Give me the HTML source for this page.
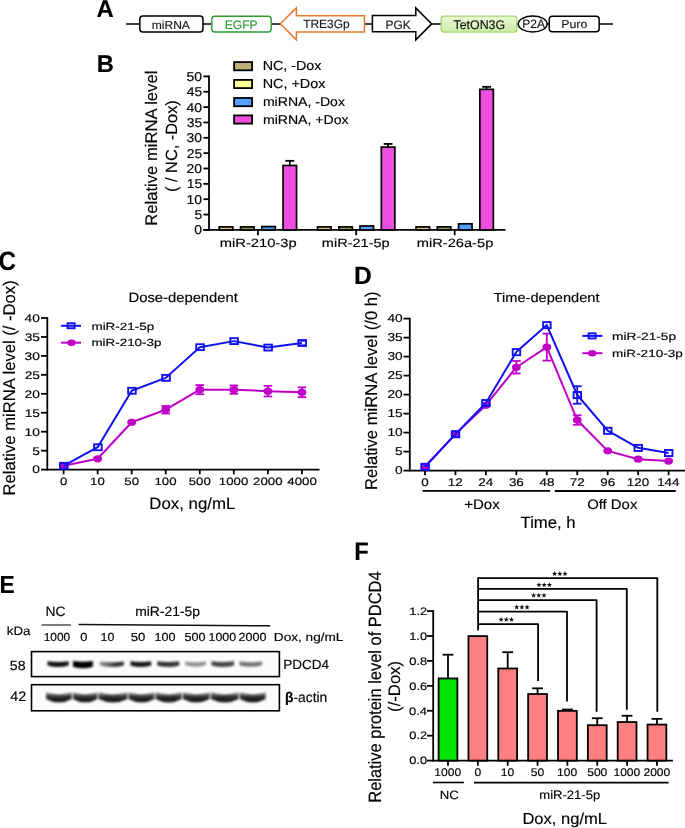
<!DOCTYPE html>
<html><head><meta charset="utf-8"><style>
html,body{margin:0;padding:0;background:#fff;}
svg{display:block;will-change:transform;}
text{font-family:"Liberation Sans",sans-serif;text-rendering:geometricPrecision;}
</style></head><body>
<svg width="685" height="828" viewBox="0 0 685 828">
<rect width="685" height="828" fill="#fff"/>
<text transform="translate(96.6,17.1) scale(0.9833,1)" font-size="24.286" font-weight="bold" fill="#000" stroke="#000" stroke-width="0.15">A</text>
<text transform="translate(96.65,71.9) scale(0.9788,1)" font-size="24.286" font-weight="bold" fill="#000" stroke="#000" stroke-width="0.15">B</text>
<text transform="translate(-1.57,270.2) scale(0.9136,1)" font-size="26.571" font-weight="bold" fill="#000" stroke="#000" stroke-width="0.15">C</text>
<text transform="translate(354.1,283.9) scale(0.9821,1)" font-size="25.000" font-weight="bold" fill="#000" stroke="#000" stroke-width="0.15">D</text>
<text transform="translate(-0.58,592.7) scale(0.9238,1)" font-size="24.714" font-weight="bold" fill="#000" stroke="#000" stroke-width="0.15">E</text>
<text transform="translate(354.36,559.7) scale(0.9330,1)" font-size="25.429" font-weight="bold" fill="#000" stroke="#000" stroke-width="0.15">F</text>
<line x1="126" y1="24" x2="613" y2="24" stroke="#000" stroke-width="1.3"/>
<rect x="139.85" y="16.05" width="63.1" height="16" rx="3" fill="#fff" stroke="#000" stroke-width="1.5"/>
<text transform="translate(151.72,28.7) scale(1.0299,1)" font-size="11.714" fill="#1a1a1a" stroke="#1a1a1a" stroke-width="0.15">miRNA</text>
<rect x="211.8" y="16.2" width="59.4" height="15.8" rx="3" fill="#fff" stroke="#2e9a2e" stroke-width="1.4"/>
<text transform="translate(224.73,28.6) scale(0.9868,1)" font-size="12.286" fill="#2e9a2e" stroke="#2e9a2e" stroke-width="0.15">EGFP</text>
<polygon points="280.3,23.8 296.4,7.9 296.4,15.7 364.5,15.7 364.5,32 296.4,32 296.4,39.9" fill="#fff" stroke="#e8792a" stroke-width="1.5" stroke-linejoin="miter"/>
<text transform="translate(303.16,28.4) scale(0.9943,1)" font-size="12.000" fill="#1a1a1a" stroke="#1a1a1a" stroke-width="0.15">TRE3Gp</text>
<polygon points="372.4,15.4 415.8,15.4 415.8,7.9 431.7,23.9 415.8,39.9 415.8,31.7 372.4,31.7" fill="#fff" stroke="#000" stroke-width="1.5"/>
<text transform="translate(385.45,28.6) scale(0.9825,1)" font-size="12.143" fill="#1a1a1a" stroke="#1a1a1a" stroke-width="0.15">PGK</text>
<defs><linearGradient id="tg" x1="0" y1="0" x2="0" y2="1"><stop offset="0" stop-color="#eaf8d6"/><stop offset="1" stop-color="#cdeda6"/></linearGradient></defs>
<rect x="441.15" y="16.15" width="75.7" height="15.9" rx="3" fill="url(#tg)" stroke="#a6d672" stroke-width="1.3"/>
<text transform="translate(453.45,28.6) scale(0.9877,1)" font-size="12.571" fill="#111" stroke="#111" stroke-width="0.15">TetON3G</text>
<ellipse cx="532.7" cy="24" rx="14.4" ry="8.0" fill="#fff" stroke="#000" stroke-width="1.5"/>
<text transform="translate(522.24,28.3) scale(0.9919,1)" font-size="12.143" fill="#1a1a1a" stroke="#1a1a1a" stroke-width="0.15">P2A</text>
<rect x="549.25" y="16.15" width="49.9" height="15.6" rx="3" fill="#fff" stroke="#000" stroke-width="1.5"/>
<text transform="translate(561.21,28.3) scale(1.0817,1)" font-size="11.429" fill="#1a1a1a" stroke="#1a1a1a" stroke-width="0.15">Puro</text>
<line x1="209" y1="75.5" x2="209" y2="230.8" stroke="#000" stroke-width="1.8"/>
<line x1="203.4" y1="229.9" x2="209" y2="229.9" stroke="#000" stroke-width="1.8"/>
<text transform="translate(194.36,234.35) scale(1.0800,1)" font-size="12.900" fill="#000" stroke="#000" stroke-width="0.15">0</text>
<line x1="203.4" y1="214.55" x2="209" y2="214.55" stroke="#000" stroke-width="1.8"/>
<text transform="translate(194.43,219) scale(1.0800,1)" font-size="12.900" fill="#000" stroke="#000" stroke-width="0.15">5</text>
<line x1="203.4" y1="199.2" x2="209" y2="199.2" stroke="#000" stroke-width="1.8"/>
<text transform="translate(186.62,203.65) scale(1.0800,1)" font-size="12.900" fill="#000" stroke="#000" stroke-width="0.15">10</text>
<line x1="203.4" y1="183.85" x2="209" y2="183.85" stroke="#000" stroke-width="1.8"/>
<text transform="translate(186.69,188.3) scale(1.0800,1)" font-size="12.900" fill="#000" stroke="#000" stroke-width="0.15">15</text>
<line x1="203.4" y1="168.5" x2="209" y2="168.5" stroke="#000" stroke-width="1.8"/>
<text transform="translate(186.62,172.95) scale(1.0800,1)" font-size="12.900" fill="#000" stroke="#000" stroke-width="0.15">20</text>
<line x1="203.4" y1="153.15" x2="209" y2="153.15" stroke="#000" stroke-width="1.8"/>
<text transform="translate(186.69,157.6) scale(1.0800,1)" font-size="12.900" fill="#000" stroke="#000" stroke-width="0.15">25</text>
<line x1="203.4" y1="137.8" x2="209" y2="137.8" stroke="#000" stroke-width="1.8"/>
<text transform="translate(186.62,142.25) scale(1.0800,1)" font-size="12.900" fill="#000" stroke="#000" stroke-width="0.15">30</text>
<line x1="203.4" y1="122.45" x2="209" y2="122.45" stroke="#000" stroke-width="1.8"/>
<text transform="translate(186.69,126.9) scale(1.0800,1)" font-size="12.900" fill="#000" stroke="#000" stroke-width="0.15">35</text>
<line x1="203.4" y1="107.1" x2="209" y2="107.1" stroke="#000" stroke-width="1.8"/>
<text transform="translate(186.62,111.55) scale(1.0800,1)" font-size="12.900" fill="#000" stroke="#000" stroke-width="0.15">40</text>
<line x1="203.4" y1="91.75" x2="209" y2="91.75" stroke="#000" stroke-width="1.8"/>
<text transform="translate(186.69,96.2) scale(1.0800,1)" font-size="12.900" fill="#000" stroke="#000" stroke-width="0.15">45</text>
<line x1="203.4" y1="76.4" x2="209" y2="76.4" stroke="#000" stroke-width="1.8"/>
<text transform="translate(186.62,80.85) scale(1.0800,1)" font-size="12.900" fill="#000" stroke="#000" stroke-width="0.15">50</text>
<line x1="203.4" y1="229.9" x2="505.4" y2="229.9" stroke="#000" stroke-width="1.8"/>
<line x1="257.9" y1="229.9" x2="257.9" y2="235.2" stroke="#000" stroke-width="1.8"/>
<line x1="356.2" y1="229.9" x2="356.2" y2="235.2" stroke="#000" stroke-width="1.8"/>
<line x1="454.7" y1="229.9" x2="454.7" y2="235.2" stroke="#000" stroke-width="1.8"/>
<rect x="219.25" y="226.88" width="13.5" height="3.07" rx="0" fill="#cdbd88" stroke="#000" stroke-width="1.7"/>
<rect x="240.55" y="226.88" width="13.5" height="3.07" rx="0" fill="#9a9660" stroke="#000" stroke-width="1.7"/>
<rect x="261.75" y="226.57" width="13.5" height="3.38" rx="0" fill="#55a0ff" stroke="#000" stroke-width="1.7"/>
<line x1="289.8" y1="160.82" x2="289.8" y2="165.43" stroke="#000" stroke-width="1.6"/>
<line x1="285.4" y1="160.82" x2="294.2" y2="160.82" stroke="#000" stroke-width="1.8"/>
<rect x="283.05" y="165.48" width="13.5" height="64.47" rx="0" fill="#ee4ee0" stroke="#000" stroke-width="1.7"/>
<rect x="317.55" y="226.88" width="13.5" height="3.07" rx="0" fill="#cdbd88" stroke="#000" stroke-width="1.7"/>
<rect x="338.85" y="226.88" width="13.5" height="3.07" rx="0" fill="#9a9660" stroke="#000" stroke-width="1.7"/>
<rect x="360.05" y="225.96" width="13.5" height="3.99" rx="0" fill="#55a0ff" stroke="#000" stroke-width="1.7"/>
<line x1="388.1" y1="143.94" x2="388.1" y2="147.01" stroke="#000" stroke-width="1.6"/>
<line x1="383.7" y1="143.94" x2="392.5" y2="143.94" stroke="#000" stroke-width="1.8"/>
<rect x="381.35" y="147.06" width="13.5" height="82.89" rx="0" fill="#ee4ee0" stroke="#000" stroke-width="1.7"/>
<rect x="416.05" y="226.88" width="13.5" height="3.07" rx="0" fill="#cdbd88" stroke="#000" stroke-width="1.7"/>
<rect x="437.35" y="226.88" width="13.5" height="3.07" rx="0" fill="#9a9660" stroke="#000" stroke-width="1.7"/>
<rect x="458.55" y="223.81" width="13.5" height="6.14" rx="0" fill="#55a0ff" stroke="#000" stroke-width="1.7"/>
<line x1="486.6" y1="86.84" x2="486.6" y2="89.29" stroke="#000" stroke-width="1.6"/>
<line x1="482.2" y1="86.84" x2="491" y2="86.84" stroke="#000" stroke-width="1.8"/>
<rect x="479.85" y="89.34" width="13.5" height="140.61" rx="0" fill="#ee4ee0" stroke="#000" stroke-width="1.7"/>
<rect x="234.1" y="62.1" width="18" height="8.2" rx="0" fill="#bfae78" stroke="#000" stroke-width="1.8"/>
<rect x="234.1" y="79.9" width="18" height="8.2" rx="0" fill="#ffff99" stroke="#000" stroke-width="1.8"/>
<rect x="234.1" y="98" width="18" height="8.2" rx="0" fill="#55a0ff" stroke="#000" stroke-width="1.8"/>
<rect x="234.1" y="115.4" width="18" height="8.2" rx="0" fill="#ee4ee0" stroke="#000" stroke-width="1.8"/>
<text transform="translate(262.65,70.3) scale(1.0902,1)" font-size="13.143" fill="#000" stroke="#000" stroke-width="0.15">NC, -Dox</text>
<text transform="translate(262.65,87.8) scale(1.0976,1)" font-size="13.143" fill="#000" stroke="#000" stroke-width="0.15">NC, +Dox</text>
<text transform="translate(262.88,106.1) scale(1.1074,1)" font-size="12.714" fill="#000" stroke="#000" stroke-width="0.15">miRNA, -Dox</text>
<text transform="translate(262.88,123.7) scale(1.1224,1)" font-size="12.571" fill="#000" stroke="#000" stroke-width="0.15">miRNA, +Dox</text>
<text transform="translate(219.74,246.6) scale(1.2256,1)" font-size="12.000" fill="#000" stroke="#000" stroke-width="0.15">miR-210-3p</text>
<text transform="translate(321.86,246.6) scale(1.2098,1)" font-size="12.000" fill="#000" stroke="#000" stroke-width="0.15">miR-21-5p</text>
<text transform="translate(416.75,246.6) scale(1.2207,1)" font-size="12.000" fill="#000" stroke="#000" stroke-width="0.15">miR-26a-5p</text>
<text transform="translate(157.2,225.73) rotate(-90) scale(1,1.0121)" font-size="16.627" fill="#000" stroke="#000" stroke-width="0.15">Relative miRNA level</text>
<text transform="translate(176.59,191.98) rotate(-90) scale(1,0.9928)" font-size="16.375" fill="#000" stroke="#000" stroke-width="0.15">( / NC, -Dox)</text>
<line x1="47.3" y1="317.1" x2="47.3" y2="470.5" stroke="#000" stroke-width="1.8"/>
<line x1="41" y1="469.6" x2="47.3" y2="469.6" stroke="#000" stroke-width="1.8"/>
<text transform="translate(32.24,473.45) scale(1.2400,1)" font-size="11.100" fill="#000" stroke="#000" stroke-width="0.15">0</text>
<line x1="41" y1="450.65" x2="47.3" y2="450.65" stroke="#000" stroke-width="1.8"/>
<text transform="translate(32.31,454.5) scale(1.2400,1)" font-size="11.100" fill="#000" stroke="#000" stroke-width="0.15">5</text>
<line x1="41" y1="431.7" x2="47.3" y2="431.7" stroke="#000" stroke-width="1.8"/>
<text transform="translate(24.6,435.55) scale(1.2400,1)" font-size="11.100" fill="#000" stroke="#000" stroke-width="0.15">10</text>
<line x1="41" y1="412.75" x2="47.3" y2="412.75" stroke="#000" stroke-width="1.8"/>
<text transform="translate(24.67,416.6) scale(1.2400,1)" font-size="11.100" fill="#000" stroke="#000" stroke-width="0.15">15</text>
<line x1="41" y1="393.8" x2="47.3" y2="393.8" stroke="#000" stroke-width="1.8"/>
<text transform="translate(24.6,397.65) scale(1.2400,1)" font-size="11.100" fill="#000" stroke="#000" stroke-width="0.15">20</text>
<line x1="41" y1="374.85" x2="47.3" y2="374.85" stroke="#000" stroke-width="1.8"/>
<text transform="translate(24.67,378.7) scale(1.2400,1)" font-size="11.100" fill="#000" stroke="#000" stroke-width="0.15">25</text>
<line x1="41" y1="355.9" x2="47.3" y2="355.9" stroke="#000" stroke-width="1.8"/>
<text transform="translate(24.6,359.75) scale(1.2400,1)" font-size="11.100" fill="#000" stroke="#000" stroke-width="0.15">30</text>
<line x1="41" y1="336.95" x2="47.3" y2="336.95" stroke="#000" stroke-width="1.8"/>
<text transform="translate(24.67,340.8) scale(1.2400,1)" font-size="11.100" fill="#000" stroke="#000" stroke-width="0.15">35</text>
<line x1="41" y1="318" x2="47.3" y2="318" stroke="#000" stroke-width="1.8"/>
<text transform="translate(24.6,321.85) scale(1.2400,1)" font-size="11.100" fill="#000" stroke="#000" stroke-width="0.15">40</text>
<line x1="47.3" y1="469.6" x2="319.5" y2="469.6" stroke="#000" stroke-width="1.8"/>
<line x1="63.6" y1="469.6" x2="63.6" y2="474.3" stroke="#000" stroke-width="1.8"/>
<text transform="translate(59.89,484.9) scale(1.2500,1)" font-size="10.600" fill="#000" stroke="#000" stroke-width="0.15">0</text>
<line x1="97.65" y1="469.6" x2="97.65" y2="474.3" stroke="#000" stroke-width="1.8"/>
<text transform="translate(90.03,484.9) scale(1.2500,1)" font-size="10.600" fill="#000" stroke="#000" stroke-width="0.15">10</text>
<line x1="131.7" y1="469.6" x2="131.7" y2="474.3" stroke="#000" stroke-width="1.8"/>
<text transform="translate(124.31,484.9) scale(1.2500,1)" font-size="10.600" fill="#000" stroke="#000" stroke-width="0.15">50</text>
<line x1="165.75" y1="469.6" x2="165.75" y2="474.3" stroke="#000" stroke-width="1.8"/>
<text transform="translate(154.45,484.9) scale(1.2500,1)" font-size="10.600" fill="#000" stroke="#000" stroke-width="0.15">100</text>
<line x1="199.8" y1="469.6" x2="199.8" y2="474.3" stroke="#000" stroke-width="1.8"/>
<text transform="translate(188.74,484.9) scale(1.2500,1)" font-size="10.600" fill="#000" stroke="#000" stroke-width="0.15">500</text>
<line x1="233.85" y1="469.6" x2="233.85" y2="474.3" stroke="#000" stroke-width="1.8"/>
<text transform="translate(218.84,484.9) scale(1.2500,1)" font-size="10.600" fill="#000" stroke="#000" stroke-width="0.15">1000</text>
<line x1="267.9" y1="469.6" x2="267.9" y2="474.3" stroke="#000" stroke-width="1.8"/>
<text transform="translate(253.06,484.9) scale(1.2500,1)" font-size="10.600" fill="#000" stroke="#000" stroke-width="0.15">2000</text>
<line x1="301.95" y1="469.6" x2="301.95" y2="474.3" stroke="#000" stroke-width="1.8"/>
<text transform="translate(287.31,484.9) scale(1.2500,1)" font-size="10.600" fill="#000" stroke="#000" stroke-width="0.15">4000</text>
<polyline points="63.6,465.81 97.65,458.8 131.7,422.23 165.75,409.72 199.8,389.63 233.85,389.63 267.9,391.15 301.95,392.28" fill="none" stroke="#c000c8" stroke-width="2.0" stroke-linejoin="round"/>
<ellipse cx="63.6" cy="465.81" rx="4.4" ry="3.6" fill="#c000c8"/>
<ellipse cx="97.65" cy="458.8" rx="4.4" ry="3.6" fill="#c000c8"/>
<ellipse cx="131.7" cy="422.23" rx="4.4" ry="3.6" fill="#c000c8"/>
<line x1="165.75" y1="405.93" x2="165.75" y2="413.51" stroke="#c000c8" stroke-width="1.8"/>
<line x1="161.45" y1="405.93" x2="170.05" y2="405.93" stroke="#c000c8" stroke-width="1.8"/>
<line x1="161.45" y1="413.51" x2="170.05" y2="413.51" stroke="#c000c8" stroke-width="1.8"/>
<ellipse cx="165.75" cy="409.72" rx="4.4" ry="3.6" fill="#c000c8"/>
<line x1="199.8" y1="385.08" x2="199.8" y2="394.18" stroke="#c000c8" stroke-width="1.8"/>
<line x1="195.5" y1="385.08" x2="204.1" y2="385.08" stroke="#c000c8" stroke-width="1.8"/>
<line x1="195.5" y1="394.18" x2="204.1" y2="394.18" stroke="#c000c8" stroke-width="1.8"/>
<ellipse cx="199.8" cy="389.63" rx="4.4" ry="3.6" fill="#c000c8"/>
<line x1="233.85" y1="385.46" x2="233.85" y2="393.8" stroke="#c000c8" stroke-width="1.8"/>
<line x1="229.55" y1="385.46" x2="238.15" y2="385.46" stroke="#c000c8" stroke-width="1.8"/>
<line x1="229.55" y1="393.8" x2="238.15" y2="393.8" stroke="#c000c8" stroke-width="1.8"/>
<ellipse cx="233.85" cy="389.63" rx="4.4" ry="3.6" fill="#c000c8"/>
<line x1="267.9" y1="385.84" x2="267.9" y2="396.45" stroke="#c000c8" stroke-width="1.8"/>
<line x1="263.6" y1="385.84" x2="272.2" y2="385.84" stroke="#c000c8" stroke-width="1.8"/>
<line x1="263.6" y1="396.45" x2="272.2" y2="396.45" stroke="#c000c8" stroke-width="1.8"/>
<ellipse cx="267.9" cy="391.15" rx="4.4" ry="3.6" fill="#c000c8"/>
<line x1="301.95" y1="387.36" x2="301.95" y2="397.21" stroke="#c000c8" stroke-width="1.8"/>
<line x1="297.65" y1="387.36" x2="306.25" y2="387.36" stroke="#c000c8" stroke-width="1.8"/>
<line x1="297.65" y1="397.21" x2="306.25" y2="397.21" stroke="#c000c8" stroke-width="1.8"/>
<ellipse cx="301.95" cy="392.28" rx="4.4" ry="3.6" fill="#c000c8"/>
<polyline points="63.6,465.81 97.65,447.24 131.7,390.77 165.75,377.88 199.8,347.18 233.85,341.12 267.9,347.56 301.95,343.01" fill="none" stroke="#1010f0" stroke-width="2.0" stroke-linejoin="round"/>
<rect x="60.05" y="462.86" width="7.6" height="5.9" rx="0" fill="none" stroke="#1010f0" stroke-width="1.9"/>
<rect x="94.1" y="444.29" width="7.6" height="5.9" rx="0" fill="none" stroke="#1010f0" stroke-width="1.9"/>
<rect x="128.15" y="387.82" width="7.6" height="5.9" rx="0" fill="none" stroke="#1010f0" stroke-width="1.9"/>
<rect x="162.2" y="374.93" width="7.6" height="5.9" rx="0" fill="none" stroke="#1010f0" stroke-width="1.9"/>
<rect x="196.25" y="344.23" width="7.6" height="5.9" rx="0" fill="none" stroke="#1010f0" stroke-width="1.9"/>
<rect x="230.3" y="338.17" width="7.6" height="5.9" rx="0" fill="none" stroke="#1010f0" stroke-width="1.9"/>
<rect x="264.35" y="344.61" width="7.6" height="5.9" rx="0" fill="none" stroke="#1010f0" stroke-width="1.9"/>
<line x1="297.65" y1="340.74" x2="306.25" y2="340.74" stroke="#1010f0" stroke-width="1.8"/>
<line x1="297.65" y1="345.29" x2="306.25" y2="345.29" stroke="#1010f0" stroke-width="1.8"/>
<rect x="298.4" y="340.06" width="7.6" height="5.9" rx="0" fill="none" stroke="#1010f0" stroke-width="1.9"/>
<line x1="61.1" y1="325.8" x2="81" y2="325.8" stroke="#1010f0" stroke-width="2.0"/>
<rect x="67.55" y="323.25" width="7.1" height="5" rx="0" fill="none" stroke="#1010f0" stroke-width="1.9"/>
<line x1="61.1" y1="342.7" x2="81" y2="342.7" stroke="#c000c8" stroke-width="2.0"/>
<ellipse cx="71.5" cy="342.8" rx="4.2" ry="3.2" fill="#c000c8"/>
<text transform="translate(91.42,329.5) scale(1.2933,1)" font-size="10.429" fill="#000" stroke="#000" stroke-width="0.15">miR-21-5p</text>
<text transform="translate(91.43,346.3) scale(1.3045,1)" font-size="10.286" fill="#000" stroke="#000" stroke-width="0.15">miR-210-3p</text>
<text transform="translate(128.52,301.5) scale(1.0904,1)" font-size="13.571" fill="#000" stroke="#000" stroke-width="0.15">Dose-dependent</text>
<text transform="translate(149.35,509.4) scale(1.0328,1)" font-size="16.286" fill="#000" stroke="#000" stroke-width="0.15">Dox, ng/mL</text>
<text transform="translate(15.2,495.53) rotate(-90) scale(1,1.0189)" font-size="16.642" fill="#000" stroke="#000" stroke-width="0.15">Relative miRNA level (/ -Dox)</text>
<line x1="409.8" y1="317.7" x2="409.8" y2="471.5" stroke="#000" stroke-width="1.8"/>
<line x1="403.5" y1="470.6" x2="409.8" y2="470.6" stroke="#000" stroke-width="1.8"/>
<text transform="translate(394.99,474.3) scale(1.2000,1)" font-size="11.400" fill="#000" stroke="#000" stroke-width="0.15">0</text>
<line x1="403.5" y1="451.6" x2="409.8" y2="451.6" stroke="#000" stroke-width="1.8"/>
<text transform="translate(395.05,455.3) scale(1.2000,1)" font-size="11.400" fill="#000" stroke="#000" stroke-width="0.15">5</text>
<line x1="403.5" y1="432.6" x2="409.8" y2="432.6" stroke="#000" stroke-width="1.8"/>
<text transform="translate(387.39,436.3) scale(1.2000,1)" font-size="11.400" fill="#000" stroke="#000" stroke-width="0.15">10</text>
<line x1="403.5" y1="413.6" x2="409.8" y2="413.6" stroke="#000" stroke-width="1.8"/>
<text transform="translate(387.46,417.3) scale(1.2000,1)" font-size="11.400" fill="#000" stroke="#000" stroke-width="0.15">15</text>
<line x1="403.5" y1="394.6" x2="409.8" y2="394.6" stroke="#000" stroke-width="1.8"/>
<text transform="translate(387.39,398.3) scale(1.2000,1)" font-size="11.400" fill="#000" stroke="#000" stroke-width="0.15">20</text>
<line x1="403.5" y1="375.6" x2="409.8" y2="375.6" stroke="#000" stroke-width="1.8"/>
<text transform="translate(387.46,379.3) scale(1.2000,1)" font-size="11.400" fill="#000" stroke="#000" stroke-width="0.15">25</text>
<line x1="403.5" y1="356.6" x2="409.8" y2="356.6" stroke="#000" stroke-width="1.8"/>
<text transform="translate(387.39,360.3) scale(1.2000,1)" font-size="11.400" fill="#000" stroke="#000" stroke-width="0.15">30</text>
<line x1="403.5" y1="337.6" x2="409.8" y2="337.6" stroke="#000" stroke-width="1.8"/>
<text transform="translate(387.46,341.3) scale(1.2000,1)" font-size="11.400" fill="#000" stroke="#000" stroke-width="0.15">35</text>
<line x1="403.5" y1="318.6" x2="409.8" y2="318.6" stroke="#000" stroke-width="1.8"/>
<text transform="translate(387.39,322.3) scale(1.2000,1)" font-size="11.400" fill="#000" stroke="#000" stroke-width="0.15">40</text>
<line x1="409.8" y1="470.6" x2="685" y2="470.6" stroke="#000" stroke-width="1.8"/>
<line x1="425" y1="470.6" x2="425" y2="475.2" stroke="#000" stroke-width="1.8"/>
<text transform="translate(421.24,485.5) scale(1.2200,1)" font-size="11.000" fill="#000" stroke="#000" stroke-width="0.15">0</text>
<line x1="455.45" y1="470.6" x2="455.45" y2="475.2" stroke="#000" stroke-width="1.8"/>
<text transform="translate(447.83,485.5) scale(1.2200,1)" font-size="11.000" fill="#000" stroke="#000" stroke-width="0.15">12</text>
<line x1="485.9" y1="470.6" x2="485.9" y2="475.2" stroke="#000" stroke-width="1.8"/>
<text transform="translate(478.32,485.5) scale(1.2200,1)" font-size="11.000" fill="#000" stroke="#000" stroke-width="0.15">24</text>
<line x1="516.35" y1="470.6" x2="516.35" y2="475.2" stroke="#000" stroke-width="1.8"/>
<text transform="translate(508.9,485.5) scale(1.2200,1)" font-size="11.000" fill="#000" stroke="#000" stroke-width="0.15">36</text>
<line x1="546.8" y1="470.6" x2="546.8" y2="475.2" stroke="#000" stroke-width="1.8"/>
<text transform="translate(539.49,485.5) scale(1.2200,1)" font-size="11.000" fill="#000" stroke="#000" stroke-width="0.15">48</text>
<line x1="577.25" y1="470.6" x2="577.25" y2="475.2" stroke="#000" stroke-width="1.8"/>
<text transform="translate(569.8,485.5) scale(1.2200,1)" font-size="11.000" fill="#000" stroke="#000" stroke-width="0.15">72</text>
<line x1="607.7" y1="470.6" x2="607.7" y2="475.2" stroke="#000" stroke-width="1.8"/>
<text transform="translate(600.22,485.5) scale(1.2200,1)" font-size="11.000" fill="#000" stroke="#000" stroke-width="0.15">96</text>
<line x1="638.15" y1="470.6" x2="638.15" y2="475.2" stroke="#000" stroke-width="1.8"/>
<text transform="translate(626.71,485.5) scale(1.2200,1)" font-size="11.000" fill="#000" stroke="#000" stroke-width="0.15">120</text>
<line x1="668.6" y1="470.6" x2="668.6" y2="475.2" stroke="#000" stroke-width="1.8"/>
<text transform="translate(657.13,485.5) scale(1.2200,1)" font-size="11.000" fill="#000" stroke="#000" stroke-width="0.15">144</text>
<polyline points="425,466.8 455.45,434.12 485.9,405.24 516.35,367.24 546.8,347.1 577.25,420.06 607.7,450.84 638.15,459.2 668.6,461.1" fill="none" stroke="#c000c8" stroke-width="2.0" stroke-linejoin="round"/>
<ellipse cx="425" cy="466.8" rx="4.4" ry="3.6" fill="#c000c8"/>
<ellipse cx="455.45" cy="434.12" rx="4.4" ry="3.6" fill="#c000c8"/>
<ellipse cx="485.9" cy="405.24" rx="4.4" ry="3.6" fill="#c000c8"/>
<line x1="516.35" y1="360.97" x2="516.35" y2="373.51" stroke="#c000c8" stroke-width="1.8"/>
<line x1="512.05" y1="360.97" x2="520.65" y2="360.97" stroke="#c000c8" stroke-width="1.8"/>
<line x1="512.05" y1="373.51" x2="520.65" y2="373.51" stroke="#c000c8" stroke-width="1.8"/>
<ellipse cx="516.35" cy="367.24" rx="4.4" ry="3.6" fill="#c000c8"/>
<line x1="546.8" y1="333.61" x2="546.8" y2="360.59" stroke="#c000c8" stroke-width="1.8"/>
<line x1="542.5" y1="333.61" x2="551.1" y2="333.61" stroke="#c000c8" stroke-width="1.8"/>
<line x1="542.5" y1="360.59" x2="551.1" y2="360.59" stroke="#c000c8" stroke-width="1.8"/>
<ellipse cx="546.8" cy="347.1" rx="4.4" ry="3.6" fill="#c000c8"/>
<line x1="577.25" y1="415.31" x2="577.25" y2="424.81" stroke="#c000c8" stroke-width="1.8"/>
<line x1="572.95" y1="415.31" x2="581.55" y2="415.31" stroke="#c000c8" stroke-width="1.8"/>
<line x1="572.95" y1="424.81" x2="581.55" y2="424.81" stroke="#c000c8" stroke-width="1.8"/>
<ellipse cx="577.25" cy="420.06" rx="4.4" ry="3.6" fill="#c000c8"/>
<ellipse cx="607.7" cy="450.84" rx="4.4" ry="3.6" fill="#c000c8"/>
<ellipse cx="638.15" cy="459.2" rx="4.4" ry="3.6" fill="#c000c8"/>
<ellipse cx="668.6" cy="461.1" rx="4.4" ry="3.6" fill="#c000c8"/>
<polyline points="425,466.8 455.45,434.12 485.9,402.96 516.35,352.04 546.8,325.06 577.25,394.98 607.7,430.7 638.15,447.8 668.6,452.93" fill="none" stroke="#1010f0" stroke-width="2.0" stroke-linejoin="round"/>
<rect x="421.35" y="463.85" width="7.5" height="6.1" rx="0" fill="none" stroke="#1010f0" stroke-width="1.9"/>
<rect x="451.8" y="431.17" width="7.5" height="6.1" rx="0" fill="none" stroke="#1010f0" stroke-width="1.9"/>
<rect x="482.25" y="400.01" width="7.5" height="6.1" rx="0" fill="none" stroke="#1010f0" stroke-width="1.9"/>
<rect x="512.7" y="349.09" width="7.5" height="6.1" rx="0" fill="none" stroke="#1010f0" stroke-width="1.9"/>
<rect x="543.15" y="322.11" width="7.5" height="6.1" rx="0" fill="none" stroke="#1010f0" stroke-width="1.9"/>
<line x1="577.25" y1="386.24" x2="577.25" y2="403.72" stroke="#1010f0" stroke-width="1.8"/>
<line x1="572.95" y1="386.24" x2="581.55" y2="386.24" stroke="#1010f0" stroke-width="1.8"/>
<line x1="572.95" y1="403.72" x2="581.55" y2="403.72" stroke="#1010f0" stroke-width="1.8"/>
<rect x="573.6" y="392.03" width="7.5" height="6.1" rx="0" fill="none" stroke="#1010f0" stroke-width="1.9"/>
<rect x="604.05" y="427.75" width="7.5" height="6.1" rx="0" fill="none" stroke="#1010f0" stroke-width="1.9"/>
<rect x="634.5" y="444.85" width="7.5" height="6.1" rx="0" fill="none" stroke="#1010f0" stroke-width="1.9"/>
<rect x="664.95" y="449.98" width="7.5" height="6.1" rx="0" fill="none" stroke="#1010f0" stroke-width="1.9"/>
<line x1="582.3" y1="335.9" x2="602.4" y2="335.9" stroke="#1010f0" stroke-width="2.0"/>
<rect x="588.55" y="333.35" width="7.1" height="5.1" rx="0" fill="none" stroke="#1010f0" stroke-width="1.9"/>
<line x1="582.3" y1="353.2" x2="602.4" y2="353.2" stroke="#c000c8" stroke-width="2.0"/>
<ellipse cx="592.2" cy="353.3" rx="4.2" ry="3.2" fill="#c000c8"/>
<text transform="translate(612.11,339.7) scale(1.2965,1)" font-size="10.571" fill="#000" stroke="#000" stroke-width="0.15">miR-21-5p</text>
<text transform="translate(612.12,356.8) scale(1.2979,1)" font-size="10.429" fill="#000" stroke="#000" stroke-width="0.15">miR-210-3p</text>
<text transform="translate(493.61,301.5) scale(1.1139,1)" font-size="13.143" fill="#000" stroke="#000" stroke-width="0.15">Time-dependent</text>
<line x1="422.5" y1="490.9" x2="550.1" y2="490.9" stroke="#000" stroke-width="1.8"/>
<line x1="554.8" y1="491" x2="675.7" y2="491" stroke="#000" stroke-width="1.8"/>
<text transform="translate(464.15,508.8) scale(1.0887,1)" font-size="13.857" fill="#000" stroke="#000" stroke-width="0.15">+Dox</text>
<text transform="translate(587.13,508.6) scale(1.0866,1)" font-size="13.714" fill="#000" stroke="#000" stroke-width="0.15">Off Dox</text>
<text transform="translate(520.57,528.3) scale(1.0164,1)" font-size="16.429" fill="#000" stroke="#000" stroke-width="0.15">Time, h</text>
<text transform="translate(377.2,489.93) rotate(-90) scale(1,1.0290)" font-size="16.620" fill="#000" stroke="#000" stroke-width="0.15">Relative miRNA level (/0 h)</text>
<text transform="translate(45.39,615.9) scale(1.0232,1)" font-size="13.571" fill="#000" stroke="#000" stroke-width="0.15">NC</text>
<text transform="translate(135.2,616.1) scale(1.0229,1)" font-size="13.571" fill="#000" stroke="#000" stroke-width="0.15">miR-21-5p</text>
<text transform="translate(6.73,634.9) scale(1.0980,1)" font-size="12.143" fill="#000" stroke="#000" stroke-width="0.15">kDa</text>
<line x1="41.6" y1="625" x2="71" y2="625" stroke="#444" stroke-width="1.4"/>
<line x1="78.6" y1="624.6" x2="270.2" y2="625.8" stroke="#111" stroke-width="1.5"/>
<text transform="translate(43.71,640.9) scale(1.0171,1)" font-size="11.714" fill="#000" stroke="#000" stroke-width="0.15">1000</text>
<text transform="translate(80.18,640.9) scale(1.1026,1)" font-size="11.714" fill="#000" stroke="#000" stroke-width="0.15">0</text>
<text transform="translate(100.57,640.9) scale(1.0585,1)" font-size="11.714" fill="#000" stroke="#000" stroke-width="0.15">10</text>
<text transform="translate(130.67,640.9) scale(1.1217,1)" font-size="11.714" fill="#000" stroke="#000" stroke-width="0.15">50</text>
<text transform="translate(154.55,640.9) scale(1.0760,1)" font-size="11.714" fill="#000" stroke="#000" stroke-width="0.15">100</text>
<text transform="translate(184.49,640.9) scale(1.0792,1)" font-size="11.714" fill="#000" stroke="#000" stroke-width="0.15">500</text>
<text transform="translate(208.47,640.9) scale(1.0615,1)" font-size="11.714" fill="#000" stroke="#000" stroke-width="0.15">1000</text>
<text transform="translate(238.47,640.9) scale(1.0731,1)" font-size="11.714" fill="#000" stroke="#000" stroke-width="0.15">2000</text>
<text transform="translate(273.81,640.8) scale(1.1627,1)" font-size="11.714" fill="#000" stroke="#000" stroke-width="0.15">Dox, ng/mL</text>
<text transform="translate(9.83,670) scale(1.0669,1)" font-size="13.286" fill="#000" stroke="#000" stroke-width="0.15">58</text>
<text transform="translate(10.31,700.7) scale(1.0447,1)" font-size="13.714" fill="#000" stroke="#000" stroke-width="0.15">42</text>
<text transform="translate(283.21,668.7) scale(1.0212,1)" font-size="13.286" fill="#000" stroke="#000" stroke-width="0.15">PDCD4</text>
<text transform="translate(284.93,702.3) scale(0.9880,1)" font-size="14.069" fill="#000" stroke="#000" stroke-width="0.15"><tspan font-weight="bold">β</tspan>-actin</text>
<defs><filter id="bl" x="-20%" y="-100%" width="140%" height="300%"><feGaussianBlur stdDeviation="1.3 0.9"/></filter><filter id="bl2" x="-20%" y="-100%" width="140%" height="300%"><feGaussianBlur stdDeviation="1.2 0.9"/></filter></defs>
<rect x="31.5" y="651.6" width="247.9" height="25" rx="0" fill="#fbfbfb" stroke="#000" stroke-width="1.6"/>
<rect x="31.5" y="684.7" width="247.9" height="26.1" rx="0" fill="#fbfbfb" stroke="#000" stroke-width="1.6"/>
<defs><linearGradient id="l3" x1="0" y1="0" x2="1" y2="0"><stop offset="0" stop-color="#000" stop-opacity="0.5"/><stop offset="0.7" stop-color="#000" stop-opacity="1"/><stop offset="1" stop-color="#000" stop-opacity="1"/></linearGradient><linearGradient id="ba" x1="0" y1="0" x2="0" y2="1"><stop offset="0" stop-color="#000" stop-opacity="0.5"/><stop offset="0.55" stop-color="#000" stop-opacity="0.92"/><stop offset="1" stop-color="#000" stop-opacity="0.95"/></linearGradient></defs>
<g filter="url(#bl)">
<path d="M47.5,661.2 Q58.1,662.8 68.7,661.2 L68.7,665.4 Q58.1,668.6 47.5,665.4 Z" fill="#000" fill-opacity="0.92"/>
<path d="M73,661 Q82.9,662.6 92.8,661 L92.8,666.7 Q82.9,669.9 73,666.7 Z" fill="#000" fill-opacity="1.0"/>
<path d="M99.8,661.5 Q111.8,663.1 123.8,661.5 L123.8,665.4 Q111.8,668.6 99.8,665.4 Z" fill="url(#l3)" fill-opacity="0.8"/>
<path d="M130.4,661.2 Q140.8,662.8 151.2,661.2 L151.2,665.4 Q140.8,668.6 130.4,665.4 Z" fill="#000" fill-opacity="0.9"/>
<path d="M157.3,661.2 Q168.25,662.8 179.2,661.2 L179.2,665.4 Q168.25,668.6 157.3,665.4 Z" fill="#000" fill-opacity="0.78"/>
<path d="M185.2,661.5 Q195.6,663.1 206,661.5 L206,665.1 Q195.6,668.3 185.2,665.1 Z" fill="#000" fill-opacity="0.42"/>
<path d="M211.4,661.2 Q222.7,662.8 234,661.2 L234,665.4 Q222.7,668.6 211.4,665.4 Z" fill="#000" fill-opacity="0.72"/>
<path d="M239.5,661.4 Q250.75,663 262,661.4 L262,665.2 Q250.75,668.4 239.5,665.2 Z" fill="#000" fill-opacity="0.55"/>
</g>
<g filter="url(#bl2)">
<path d="M46.1,692.6 Q58.95,696.2 71.8,692.6 L71.8,699 Q58.95,706.2 46.1,699 Z" fill="url(#ba)" fill-opacity="0.95"/>
<path d="M73,692.6 Q85.2,696.2 97.4,692.6 L97.4,699 Q85.2,706.2 73,699 Z" fill="url(#ba)" fill-opacity="0.95"/>
<path d="M98.6,692.6 Q113,696.2 127.4,692.6 L127.4,699 Q113,706.2 98.6,699 Z" fill="url(#ba)" fill-opacity="0.95"/>
<path d="M128.6,692.6 Q141.5,696.2 154.4,692.6 L154.4,699 Q141.5,706.2 128.6,699 Z" fill="url(#ba)" fill-opacity="0.95"/>
<path d="M155.6,692.6 Q168.65,696.2 181.7,692.6 L181.7,699 Q168.65,706.2 155.6,699 Z" fill="url(#ba)" fill-opacity="0.95"/>
<path d="M182.9,692.6 Q196.3,696.2 209.7,692.6 L209.7,699 Q196.3,706.2 182.9,699 Z" fill="url(#ba)" fill-opacity="0.95"/>
<path d="M210.9,692.6 Q224.75,696.2 238.6,692.6 L238.6,699 Q224.75,706.2 210.9,699 Z" fill="url(#ba)" fill-opacity="0.95"/>
<path d="M239.8,692.6 Q252.7,696.2 265.6,692.6 L265.6,699 Q252.7,706.2 239.8,699 Z" fill="url(#ba)" fill-opacity="0.95"/>
</g>
<line x1="433.2" y1="610.18" x2="433.2" y2="761.5" stroke="#000" stroke-width="1.8"/>
<line x1="427" y1="760.6" x2="433.2" y2="760.6" stroke="#000" stroke-width="1.8"/>
<text transform="translate(409.17,764.4) scale(1.1800,1)" font-size="10.900" fill="#000" stroke="#000" stroke-width="0.15">0.0</text>
<line x1="427" y1="735.68" x2="433.2" y2="735.68" stroke="#000" stroke-width="1.8"/>
<text transform="translate(409.36,739.48) scale(1.1800,1)" font-size="10.900" fill="#000" stroke="#000" stroke-width="0.15">0.2</text>
<line x1="427" y1="710.76" x2="433.2" y2="710.76" stroke="#000" stroke-width="1.8"/>
<text transform="translate(409.11,714.56) scale(1.1800,1)" font-size="10.900" fill="#000" stroke="#000" stroke-width="0.15">0.4</text>
<line x1="427" y1="685.84" x2="433.2" y2="685.84" stroke="#000" stroke-width="1.8"/>
<text transform="translate(409.24,689.64) scale(1.1800,1)" font-size="10.900" fill="#000" stroke="#000" stroke-width="0.15">0.6</text>
<line x1="427" y1="660.92" x2="433.2" y2="660.92" stroke="#000" stroke-width="1.8"/>
<text transform="translate(409.24,664.72) scale(1.1800,1)" font-size="10.900" fill="#000" stroke="#000" stroke-width="0.15">0.8</text>
<line x1="427" y1="636" x2="433.2" y2="636" stroke="#000" stroke-width="1.8"/>
<text transform="translate(409.17,639.8) scale(1.1800,1)" font-size="10.900" fill="#000" stroke="#000" stroke-width="0.15">1.0</text>
<line x1="427" y1="611.08" x2="433.2" y2="611.08" stroke="#000" stroke-width="1.8"/>
<text transform="translate(409.36,614.88) scale(1.1800,1)" font-size="10.900" fill="#000" stroke="#000" stroke-width="0.15">1.2</text>
<line x1="433.2" y1="760.6" x2="672.9" y2="760.6" stroke="#000" stroke-width="1.8"/>
<line x1="448" y1="760.6" x2="448" y2="765.7" stroke="#000" stroke-width="1.8"/>
<text transform="translate(434.3,775.8) scale(1.1000,1)" font-size="11.000" fill="#000" stroke="#000" stroke-width="0.15">1000</text>
<line x1="448" y1="654.69" x2="448" y2="678.36" stroke="#000" stroke-width="1.8"/>
<line x1="442.6" y1="654.69" x2="453.4" y2="654.69" stroke="#000" stroke-width="1.8"/>
<rect x="438.6" y="678.46" width="18.8" height="82.14" rx="0" fill="#00e600" stroke="#000" stroke-width="1.8"/>
<line x1="477.85" y1="760.6" x2="477.85" y2="765.7" stroke="#000" stroke-width="1.8"/>
<text transform="translate(474.46,775.8) scale(1.1000,1)" font-size="11.000" fill="#000" stroke="#000" stroke-width="0.15">0</text>
<rect x="468.45" y="636.1" width="18.8" height="124.5" rx="0" fill="#ff8080" stroke="#000" stroke-width="1.8"/>
<line x1="507.7" y1="760.6" x2="507.7" y2="765.7" stroke="#000" stroke-width="1.8"/>
<text transform="translate(500.74,775.8) scale(1.1000,1)" font-size="11.000" fill="#000" stroke="#000" stroke-width="0.15">10</text>
<line x1="507.7" y1="652.2" x2="507.7" y2="668.4" stroke="#000" stroke-width="1.8"/>
<line x1="502.3" y1="652.2" x2="513.1" y2="652.2" stroke="#000" stroke-width="1.8"/>
<rect x="498.3" y="668.5" width="18.8" height="92.1" rx="0" fill="#ff8080" stroke="#000" stroke-width="1.8"/>
<line x1="537.55" y1="760.6" x2="537.55" y2="765.7" stroke="#000" stroke-width="1.8"/>
<text transform="translate(530.8,775.8) scale(1.1000,1)" font-size="11.000" fill="#000" stroke="#000" stroke-width="0.15">50</text>
<line x1="537.55" y1="688.33" x2="537.55" y2="693.94" stroke="#000" stroke-width="1.8"/>
<line x1="532.15" y1="688.33" x2="542.95" y2="688.33" stroke="#000" stroke-width="1.8"/>
<rect x="528.15" y="694.04" width="18.8" height="66.56" rx="0" fill="#ff8080" stroke="#000" stroke-width="1.8"/>
<line x1="567.4" y1="760.6" x2="567.4" y2="765.7" stroke="#000" stroke-width="1.8"/>
<text transform="translate(557.08,775.8) scale(1.1000,1)" font-size="11.000" fill="#000" stroke="#000" stroke-width="0.15">100</text>
<line x1="567.4" y1="709.51" x2="567.4" y2="710.76" stroke="#000" stroke-width="1.8"/>
<line x1="562" y1="709.51" x2="572.8" y2="709.51" stroke="#000" stroke-width="1.8"/>
<rect x="558" y="710.86" width="18.8" height="49.74" rx="0" fill="#ff8080" stroke="#000" stroke-width="1.8"/>
<line x1="597.25" y1="760.6" x2="597.25" y2="765.7" stroke="#000" stroke-width="1.8"/>
<text transform="translate(587.15,775.8) scale(1.1000,1)" font-size="11.000" fill="#000" stroke="#000" stroke-width="0.15">500</text>
<line x1="597.25" y1="718.24" x2="597.25" y2="725.09" stroke="#000" stroke-width="1.8"/>
<line x1="591.85" y1="718.24" x2="602.65" y2="718.24" stroke="#000" stroke-width="1.8"/>
<rect x="587.85" y="725.19" width="18.8" height="35.41" rx="0" fill="#ff8080" stroke="#000" stroke-width="1.8"/>
<line x1="627.1" y1="760.6" x2="627.1" y2="765.7" stroke="#000" stroke-width="1.8"/>
<text transform="translate(613.4,775.8) scale(1.1000,1)" font-size="11.000" fill="#000" stroke="#000" stroke-width="0.15">1000</text>
<line x1="627.1" y1="715.74" x2="627.1" y2="721.97" stroke="#000" stroke-width="1.8"/>
<line x1="621.7" y1="715.74" x2="632.5" y2="715.74" stroke="#000" stroke-width="1.8"/>
<rect x="617.7" y="722.07" width="18.8" height="38.53" rx="0" fill="#ff8080" stroke="#000" stroke-width="1.8"/>
<line x1="656.95" y1="760.6" x2="656.95" y2="765.7" stroke="#000" stroke-width="1.8"/>
<text transform="translate(643.4,775.8) scale(1.1000,1)" font-size="11.000" fill="#000" stroke="#000" stroke-width="0.15">2000</text>
<line x1="656.95" y1="718.86" x2="656.95" y2="724.47" stroke="#000" stroke-width="1.8"/>
<line x1="651.55" y1="718.86" x2="662.35" y2="718.86" stroke="#000" stroke-width="1.8"/>
<rect x="647.55" y="724.57" width="18.8" height="36.03" rx="0" fill="#ff8080" stroke="#000" stroke-width="1.8"/>
<line x1="478.1" y1="577.2" x2="478.1" y2="630.4" stroke="#000" stroke-width="1.8"/>
<polyline points="478.1,578.1 657.3,578.1 657.3,711.8" fill="none" stroke="#000" stroke-width="1.8" stroke-linejoin="round" stroke-linejoin="miter"/>
<polyline points="478.1,588.8 626.8,588.8 626.8,709.8" fill="none" stroke="#000" stroke-width="1.8" stroke-linejoin="round" stroke-linejoin="miter"/>
<polyline points="478.1,600.1 596.6,600.1 596.6,711.8" fill="none" stroke="#000" stroke-width="1.8" stroke-linejoin="round" stroke-linejoin="miter"/>
<polyline points="478.1,611.7 567,611.7 567,701.4" fill="none" stroke="#000" stroke-width="1.8" stroke-linejoin="round" stroke-linejoin="miter"/>
<polyline points="478.1,624.1 538.1,624.1 538.1,681" fill="none" stroke="#000" stroke-width="1.8" stroke-linejoin="round" stroke-linejoin="miter"/>
<polygon points="554.60,571.01 555.28,572.83 557.22,572.91 555.69,574.12 556.22,575.99 554.60,574.91 552.98,575.99 553.51,574.12 551.98,572.91 553.92,572.83" fill="#111"/>
<polygon points="559.80,571.01 560.48,572.83 562.42,572.91 560.89,574.12 561.42,575.99 559.80,574.91 558.18,575.99 558.71,574.12 557.18,572.91 559.12,572.83" fill="#111"/>
<polygon points="565.00,571.01 565.68,572.83 567.62,572.91 566.09,574.12 566.62,575.99 565.00,574.91 563.38,575.99 563.91,574.12 562.38,572.91 564.32,572.83" fill="#111"/>
<polygon points="539.00,582.21 539.68,584.03 541.62,584.11 540.09,585.32 540.62,587.19 539.00,586.11 537.38,587.19 537.91,585.32 536.38,584.11 538.32,584.03" fill="#111"/>
<polygon points="544.20,582.21 544.88,584.03 546.82,584.11 545.29,585.32 545.82,587.19 544.20,586.11 542.58,587.19 543.11,585.32 541.58,584.11 543.52,584.03" fill="#111"/>
<polygon points="549.40,582.21 550.08,584.03 552.02,584.11 550.49,585.32 551.02,587.19 549.40,586.11 547.78,587.19 548.31,585.32 546.78,584.11 548.72,584.03" fill="#111"/>
<polygon points="533.60,592.71 534.28,594.53 536.22,594.61 534.69,595.82 535.22,597.69 533.60,596.61 531.98,597.69 532.51,595.82 530.98,594.61 532.92,594.53" fill="#111"/>
<polygon points="538.80,592.71 539.48,594.53 541.42,594.61 539.89,595.82 540.42,597.69 538.80,596.61 537.18,597.69 537.71,595.82 536.18,594.61 538.12,594.53" fill="#111"/>
<polygon points="544.00,592.71 544.68,594.53 546.62,594.61 545.09,595.82 545.62,597.69 544.00,596.61 542.38,597.69 542.91,595.82 541.38,594.61 543.32,594.53" fill="#111"/>
<polygon points="516.70,604.51 517.38,606.33 519.32,606.41 517.79,607.62 518.32,609.49 516.70,608.41 515.08,609.49 515.61,607.62 514.08,606.41 516.02,606.33" fill="#111"/>
<polygon points="521.90,604.51 522.58,606.33 524.52,606.41 522.99,607.62 523.52,609.49 521.90,608.41 520.28,609.49 520.81,607.62 519.28,606.41 521.22,606.33" fill="#111"/>
<polygon points="527.10,604.51 527.78,606.33 529.72,606.41 528.19,607.62 528.72,609.49 527.10,608.41 525.48,609.49 526.01,607.62 524.48,606.41 526.42,606.33" fill="#111"/>
<polygon points="501.10,616.81 501.78,618.63 503.72,618.71 502.19,619.92 502.72,621.79 501.10,620.71 499.48,621.79 500.01,619.92 498.48,618.71 500.42,618.63" fill="#111"/>
<polygon points="506.30,616.81 506.98,618.63 508.92,618.71 507.39,619.92 507.92,621.79 506.30,620.71 504.68,621.79 505.21,619.92 503.68,618.71 505.62,618.63" fill="#111"/>
<polygon points="511.50,616.81 512.18,618.63 514.12,618.71 512.59,619.92 513.12,621.79 511.50,620.71 509.88,621.79 510.41,619.92 508.88,618.71 510.82,618.63" fill="#111"/>
<line x1="432.9" y1="782.5" x2="463.9" y2="782.5" stroke="#000" stroke-width="1.6"/>
<line x1="474" y1="782.6" x2="668.5" y2="782.6" stroke="#000" stroke-width="1.6"/>
<text transform="translate(439.74,798.5) scale(1.1006,1)" font-size="12.000" fill="#000" stroke="#000" stroke-width="0.15">NC</text>
<text transform="translate(539.35,798.9) scale(1.0621,1)" font-size="12.286" fill="#000" stroke="#000" stroke-width="0.15">miR-21-5p</text>
<text transform="translate(522.38,823.6) scale(1.0443,1)" font-size="15.857" fill="#000" stroke="#000" stroke-width="0.15">Dox, ng/mL</text>
<text transform="translate(380.9,802.72) rotate(-90) scale(1,1.0826)" font-size="16.466" fill="#000" stroke="#000" stroke-width="0.15">Relative protein level of PDCD4</text>
<text transform="translate(400.1,711.9) rotate(-90) scale(1,0.9997)" font-size="16.689" fill="#000" stroke="#000" stroke-width="0.15">(/-Dox)</text>
</svg>
</body></html>
